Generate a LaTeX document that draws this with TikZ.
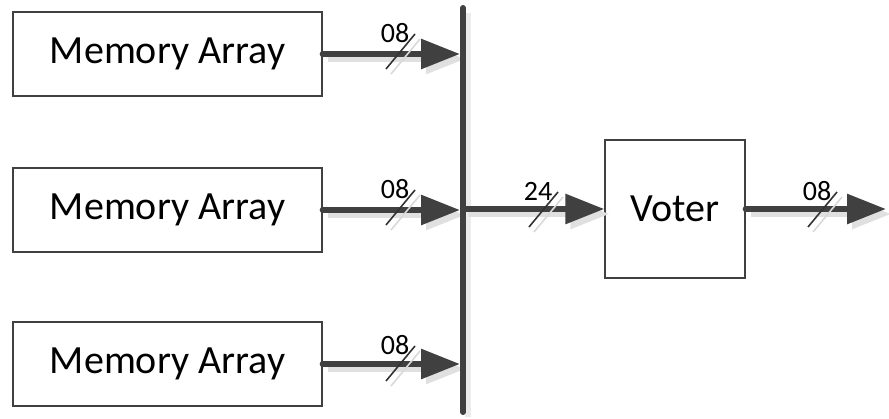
\documentclass[tikz,border=0pt]{standalone}
\usepackage{fontspec}
\setmainfont{Carlito}
\usetikzlibrary{arrows.meta,calc}
% bus width mark: a slash across the wire and its bit count above it
\newcommand\widthmark[4]{%
  \draw[slashshadow] ($(#1,#2)+(-9,23)$) -- ($(#1,#2)+(20,-12)$);
  \draw[slash] ($(#1,#2)+(-14,18)$) -- ($(#1,#2)+(15,-17)$);
  \node[widthlabel] (#4) at ($(#1,#2)+(-5,-18)$) {#3};}
\begin{document}
\begin{tikzpicture}[x=1pt,y=-1pt,
  block/.style={draw=black!75, line width=1.3pt, fill=white, inner sep=0pt,
    font=\fontsize{40}{42}\selectfont},
  memblock/.style={block, minimum width=309pt, minimum height=84pt},
  wire/.style={line width=6pt, draw=black!75, line cap=round,
    -{Triangle[length=39pt,width=29pt]}},
  wireshadow/.style={wire, draw=black!12, line cap=butt},
  shadowed/.style={transform canvas={xshift=5pt, yshift=-5pt}},
  slash/.style={line width=1.6pt, draw=black!80},
  slashshadow/.style={line width=1.6pt, draw=black!15},
  widthlabel/.style={font=\fontsize{28}{30}\selectfont, inner sep=0pt},
]
\useasboundingbox (0,0) rectangle (889,419);

% blocks
\node[memblock] (m1) at (167.5,54) {Memory Array};
\node[memblock] (m2) at (167.5,210) {Memory Array};
\node[memblock] (m3) at (167.5,364) {Memory Array};
\node[block, minimum width=140pt, minimum height=138pt] (voter) at (675,209) {Voter};

% bus ends and free output end
\coordinate (bt) at (463,8);
\coordinate (bb) at (463,412);
\coordinate (bj) at (463,209);
\coordinate (out) at (886,209);

% soft drop shadows
\draw[shadowed, line width=6pt, draw=black!8] (bt) -- (bb);
\draw[shadowed, wireshadow, shorten >=3pt] (m1.east) -- (m1.east -| bt);
\draw[shadowed, wireshadow, shorten >=3pt] (m2.east) -- (m2.east -| bt);
\draw[shadowed, wireshadow, shorten >=3pt] (m3.east) -- (m3.east -| bt);
\draw[shadowed, wireshadow] (bj) -- (voter.west);
\draw[shadowed, wireshadow] (voter.east) -- (out);

% bus
\draw[line width=6pt, draw=black!75, line cap=round] (bt) -- (bb);

% connectors
\draw[wire, shorten >=3pt] (m1.east) -- (m1.east -| bt);
\draw[wire, shorten >=3pt] (m2.east) -- (m2.east -| bt);
\draw[wire, shorten >=3pt] (m3.east) -- (m3.east -| bt);
\draw[wire] (bj) -- (voter.west);
\draw[wire] (voter.east) -- (out);

% width marks
\widthmark{400}{51}{08}{w1}
\widthmark{400}{207}{08}{w2}
\widthmark{400}{363}{08}{w3}
\widthmark{543}{209}{24}{w4}
\widthmark{822}{209}{08}{w5}
\end{tikzpicture}
\end{document}
